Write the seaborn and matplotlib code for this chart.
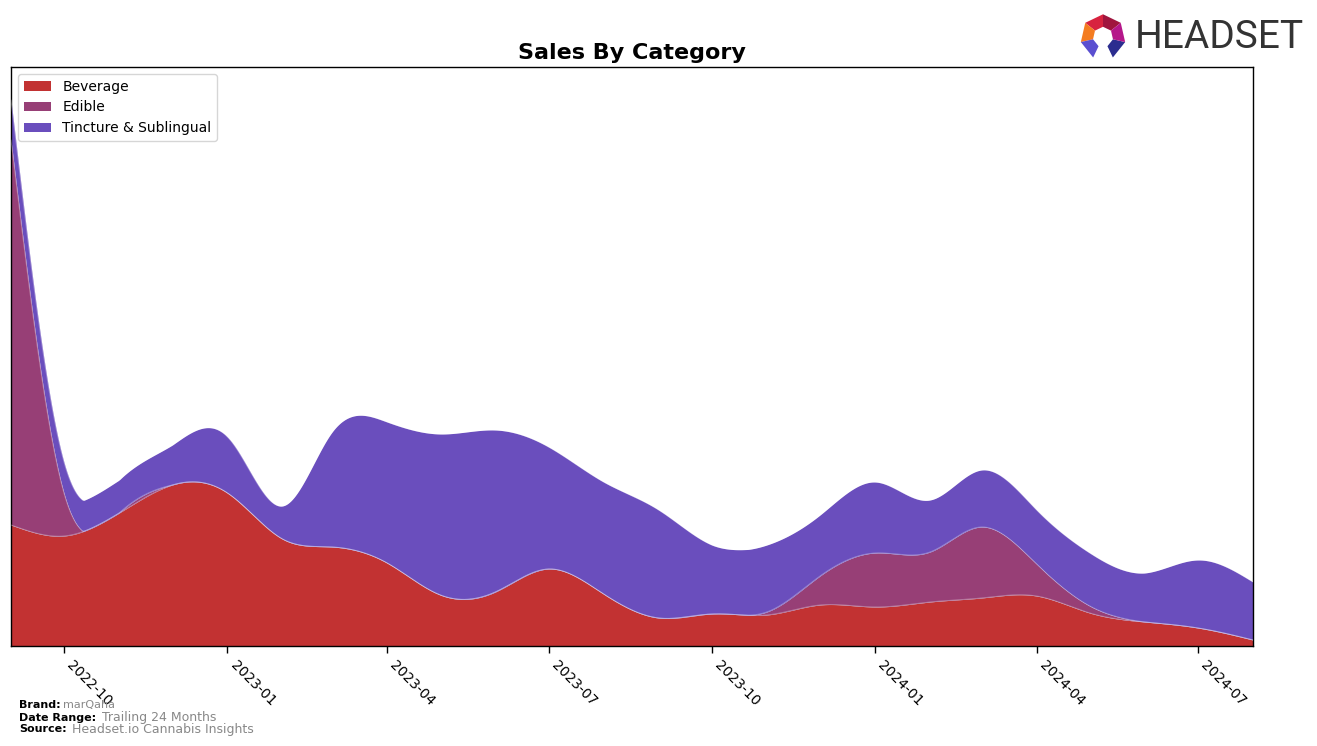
import numpy as np
import pandas as pd
import matplotlib
matplotlib.use("Agg")
import matplotlib.pyplot as plt
import matplotlib.dates as mdates
from matplotlib.patches import Polygon
import seaborn as sns

# ---------------- data (monthly) ----------------
months = pd.date_range("2022-09-01", "2024-08-01", freq="MS")
categories = ["Beverage", "Edible", "Tincture & Sublingual"]
beverage = [121, 110, 133, 161, 153, 107, 99, 83, 51, 54, 77, 52,
            28, 32, 31, 41, 39, 44, 48, 50, 33, 24, 18, 6]
edible = [385, 42, 0, 0, 0, 0, 0, 0, 0, 0, 0, 0,
          0, 0, 3, 29, 54, 50, 71, 32, 7, 0, 0, 0]
tincture = [40, 31, 33, 40, 56, 33, 115, 141, 161, 162, 122, 112,
            108, 69, 67, 61, 71, 52, 57, 54, 53, 49, 68, 58]
colors = ["#c23232", "#973f76", "#6a4ebd"]
x_ticks_label_fmt = "%Y-%m"


def natural_spline(x, y, xs):
    x = np.asarray(x, float)
    y = np.asarray(y, float)
    n = len(x)
    h = np.diff(x)
    A = np.zeros((n, n))
    r = np.zeros(n)
    A[0, 0] = 1.0
    A[-1, -1] = 1.0
    for i in range(1, n - 1):
        A[i, i - 1] = h[i - 1]
        A[i, i] = 2 * (h[i - 1] + h[i])
        A[i, i + 1] = h[i]
        r[i] = 3 * ((y[i + 1] - y[i]) / h[i] - (y[i] - y[i - 1]) / h[i - 1])
    c = np.linalg.solve(A, r)
    b = (y[1:] - y[:-1]) / h - h * (2 * c[:-1] + c[1:]) / 3
    d = (c[1:] - c[:-1]) / (3 * h)
    idx = np.clip(np.searchsorted(x, xs, side="right") - 1, 0, n - 2)
    dx = xs - x[idx]
    return y[idx] + b[idx] * dx + c[idx] * dx ** 2 + d[idx] * dx ** 3


sns.set_style("ticks")
plt.rcParams["font.family"] = ["DejaVu Sans"]
plt.rcParams["text.color"] = "black"
plt.rcParams["axes.labelcolor"] = "black"
plt.rcParams["xtick.color"] = "black"
plt.rcParams["ytick.color"] = "black"

fig = plt.figure(figsize=(13.17, 7.46), dpi=100)
ax = fig.add_axes([11 / 1317, 1 - 646 / 746, (1253 - 11) / 1317, (646 - 67) / 746])

xnum = mdates.date2num(months)
xs = np.linspace(xnum[0], xnum[-1], 800)
series = [beverage, edible, tincture]
smooth = [np.clip(natural_spline(xnum, s, xs), 0, None) for s in series]
xs_dates = mdates.num2date(xs)

bottom = np.zeros_like(xs)
lines = []
for name, sm, col in zip(categories, smooth, colors):
    top = bottom + sm
    ax.fill_between(xs_dates, bottom, top, color=col, label=name, linewidth=0, zorder=2)
    lines.append(pd.DataFrame({"date": xs_dates, "value": top, "cat": name}))
    bottom = top

edge_df = pd.concat(lines, ignore_index=True)
sns.lineplot(data=edge_df, x="date", y="value", units="cat", estimator=None,
             color="white", alpha=0.3, linewidth=0.7, ax=ax, legend=False, zorder=3)

ax.set_xlim(months[0], months[-1])
ax.set_ylim(0, 579)
ax.set_xlabel("")
ax.set_ylabel("")
ax.set_yticks([])
ax.xaxis.set_major_locator(mdates.MonthLocator(bymonth=[1, 4, 7, 10]))
ax.xaxis.set_major_formatter(mdates.DateFormatter(x_ticks_label_fmt))
ax.tick_params(axis="x", direction="out", length=5, width=1, labelsize=10, colors="black")
for lab in ax.get_xticklabels():
    lab.set_rotation(-45)
    lab.set_ha("left")
    lab.set_va("top")
for sp in ax.spines.values():
    sp.set_visible(True)
    sp.set_color("black")
    sp.set_linewidth(1.0)

ax.set_title("Sales By Category", fontsize=16, fontweight="bold", pad=6, color="black")
leg = ax.legend(loc="upper left", fontsize=10, frameon=True, borderaxespad=0.5,
                handlelength=2.0, handleheight=0.7)
leg.get_frame().set_edgecolor("#cccccc")
for t in leg.get_texts():
    t.set_color("black")

# ---------------- footer ----------------
fig.text(19 / 1317, 1 - 705 / 746, "Brand:", fontsize=8, fontweight="bold", va="center")
fig.text(63 / 1317, 1 - 705 / 746, "marQaha", fontsize=8, color="#888888", va="center")
fig.text(19 / 1317, 1 - 718 / 746, "Date Range:", fontsize=8, fontweight="bold", va="center")
fig.text(102 / 1317, 1 - 717 / 746, "Trailing 24 Months", fontsize=9, color="#888888", va="center")
fig.text(19 / 1317, 1 - 729 / 746, "Source:", fontsize=8, fontweight="bold", va="center")
fig.text(72 / 1317, 1 - 729 / 746, "Headset.io Cannabis Insights", fontsize=9, color="#888888", va="center")

# ---------------- logo ----------------
lax = fig.add_axes([1078 / 1317, 1 - 62 / 746, 50 / 1317, 50 / 746])
lax.set_xlim(-1.1, 1.1)
lax.set_ylim(-1.1, 1.1)
lax.axis("off")
R, r = 1.0, 0.45
seg_cols = ["#a0153e", "#d8233f", "#f47c20", "#5a4fd0", None, "#2b2d8f", "#b5178a"]
start = 90.0 - 360 / 7
for k in range(7):
    col = seg_cols[k]
    if col is None:
        continue
    a0 = np.deg2rad(start + k * 360 / 7)
    a1 = np.deg2rad(start + (k + 1) * 360 / 7)
    pts = [(R * np.cos(a0), R * np.sin(a0)), (R * np.cos(a1), R * np.sin(a1)),
           (r * np.cos(a1), r * np.sin(a1)), (r * np.cos(a0), r * np.sin(a0))]
    lax.add_patch(Polygon(pts, closed=True, color=col, lw=0))
fig.text(1304 / 1317, 1 - 38 / 746, "HEADSET", fontsize=28, color="#333333",
         va="center", ha="right", family=["Roboto", "DejaVu Sans"])

fig.savefig("out.png", dpi=100)
